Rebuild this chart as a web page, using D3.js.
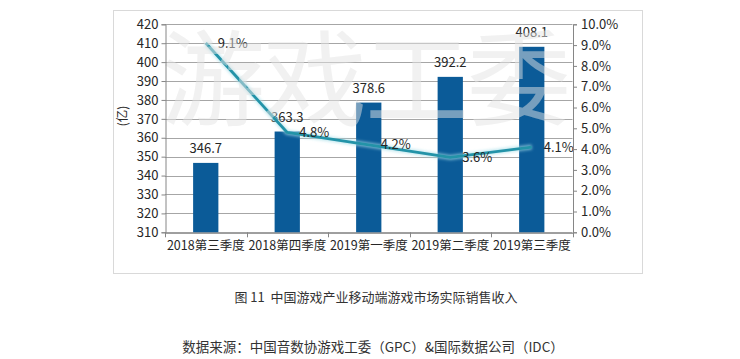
<!DOCTYPE html>
<html><head><meta charset="utf-8">
<script src="https://cdn.jsdelivr.net/npm/d3@7"></script>
<style>
html,body{margin:0;padding:0;background:#fff;}
svg{display:block;font-family:"Noto Sans CJK SC","Microsoft YaHei",sans-serif;}
</style></head><body>
<svg id="c" width="740" height="359"></svg>
<script>
const categories = ["2018第三季度","2018第四季度","2019第一季度","2019第二季度","2019第三季度"];
const revenue = [346.7, 363.3, 378.6, 392.2, 408.1];
const growth = [9.1, 4.8, 4.2, 3.6, 4.1];
const leftTicks = [310,320,330,340,350,360,370,380,390,400,410,420];
const rightTicks = [0,1,2,3,4,5,6,7,8,9,10];
const yLabel = "(亿)";
const watermark = "游戏工委";
const caption = "图 11  中国游戏产业移动端游戏市场实际销售收入";
const source = "数据来源：中国音数协游戏工委（GPC）&国际数据公司（IDC）";

const svg = d3.select("#c");
const L = 165, R = 572.5, T = 24.3, B = 232.3;

// outer frame
svg.append("rect").attr("x",113.5).attr("y",10.5).attr("width",529).attr("height",263)
  .attr("fill","none").attr("stroke","#d9d9d9").attr("stroke-width",1);

const x = d3.scaleBand().domain(categories).range([L,R]).paddingInner(0.69).paddingOuter(0.345);
const xb = d3.scaleBand().domain(categories).range([L,R]);
const y = d3.scaleLinear().domain([310,420]).range([B,T]);
const y2 = d3.scaleLinear().domain([0,10]).range([B,T]);

// gridlines
svg.append("g").selectAll("line").data(leftTicks).join("line")
  .attr("x1",L).attr("x2",R).attr("y1",d=>Math.round(y(d))+0.5).attr("y2",d=>Math.round(y(d))+0.5)
  .attr("stroke","#a6a6a6").attr("stroke-width",1);

// bars
svg.append("g").selectAll("rect").data(revenue).join("rect")
  .attr("x",(d,i)=>x(categories[i])).attr("width",x.bandwidth())
  .attr("y",d=>y(d)).attr("height",d=>B-y(d)).attr("fill","#0b5b98");

// value labels
svg.append("g").selectAll("text").data(revenue).join("text")
  .attr("x",(d,i)=>x(categories[i])+x.bandwidth()/2).attr("y",d=>y(d)-10)
  .attr("text-anchor","middle").attr("font-size",13).attr("fill","#262626")
  .text(d=>d.toFixed(1));

// line with glow
const defs = svg.append("defs");
const f = defs.append("filter").attr("id","glow").attr("x","-20%").attr("y","-20%").attr("width","140%").attr("height","140%");
f.append("feGaussianBlur").attr("stdDeviation",1.8);
const line = d3.line().x((d,i)=>xb(categories[i])+xb.bandwidth()/2).y(d=>y2(d));
svg.append("path").datum(growth).attr("d",line).attr("fill","none")
  .attr("stroke","#a6dee8").attr("stroke-width",5).attr("opacity",0.7).attr("filter","url(#glow)");
svg.append("path").datum(growth).attr("d",line).attr("fill","none")
  .attr("stroke","#2393a8").attr("stroke-width",2.8).attr("stroke-linejoin","round");

// percent labels
svg.append("g").selectAll("text").data(growth).join("text")
  .attr("x",(d,i)=>xb(categories[i])+xb.bandwidth()/2+12).attr("y",d=>y2(d)+4.5)
  .attr("font-size",13).attr("fill","#262626")
  .text(d=>d.toFixed(1)+"%");

// watermark
svg.append("text").attr("x",161).attr("y",118).attr("font-size",104)
  .attr("fill","rgb(228,228,228)").attr("fill-opacity",0.5).attr("letter-spacing",-2)
  .text(watermark);

// axes
const axL = d3.axisLeft(y).tickValues(leftTicks).tickSize(4).tickPadding(3);
const gL = svg.append("g").attr("transform",`translate(${L+0.5},0)`).call(axL);
const axR = d3.axisRight(y2).tickValues(rightTicks).tickSize(4).tickPadding(4).tickFormat(d=>d.toFixed(1)+"%");
const gR = svg.append("g").attr("transform",`translate(${R+0.5},0)`).call(axR);
const axB = d3.axisBottom(xb).tickSize(0).tickPadding(8);
const gB = svg.append("g").attr("transform",`translate(0,${B+0.5})`).call(axB);
// bottom category-separator ticks
svg.append("g").selectAll("line").data(d3.range(categories.length+1)).join("line")
  .attr("x1",i=>Math.round(L+i*xb.step())+0.5).attr("x2",i=>Math.round(L+i*xb.step())+0.5)
  .attr("y1",B).attr("y2",B+5).attr("stroke","#868686");
[gL,gR,gB].forEach(g=>{
  g.select(".domain").attr("stroke","#868686");
  g.selectAll(".tick line").attr("stroke","#868686");
  g.selectAll("text").attr("fill","#262626").attr("font-size",13).attr("font-family","'Noto Sans CJK SC',sans-serif");
});
gB.selectAll("text").attr("font-size",12.5);

// y label
svg.append("text").attr("transform","translate(127,116) rotate(-90)")
  .attr("text-anchor","middle").attr("font-size",12.5).attr("fill","#262626").text(yLabel);

// captions
svg.append("text").attr("x",376).attr("y",302).attr("text-anchor","middle")
  .attr("font-size",13).attr("fill","#333").style("white-space","pre").text(caption);
svg.append("text").attr("x",373).attr("y",352).attr("text-anchor","middle")
  .attr("font-size",13.5).attr("fill","#333").text(source);
</script>
</body></html>
